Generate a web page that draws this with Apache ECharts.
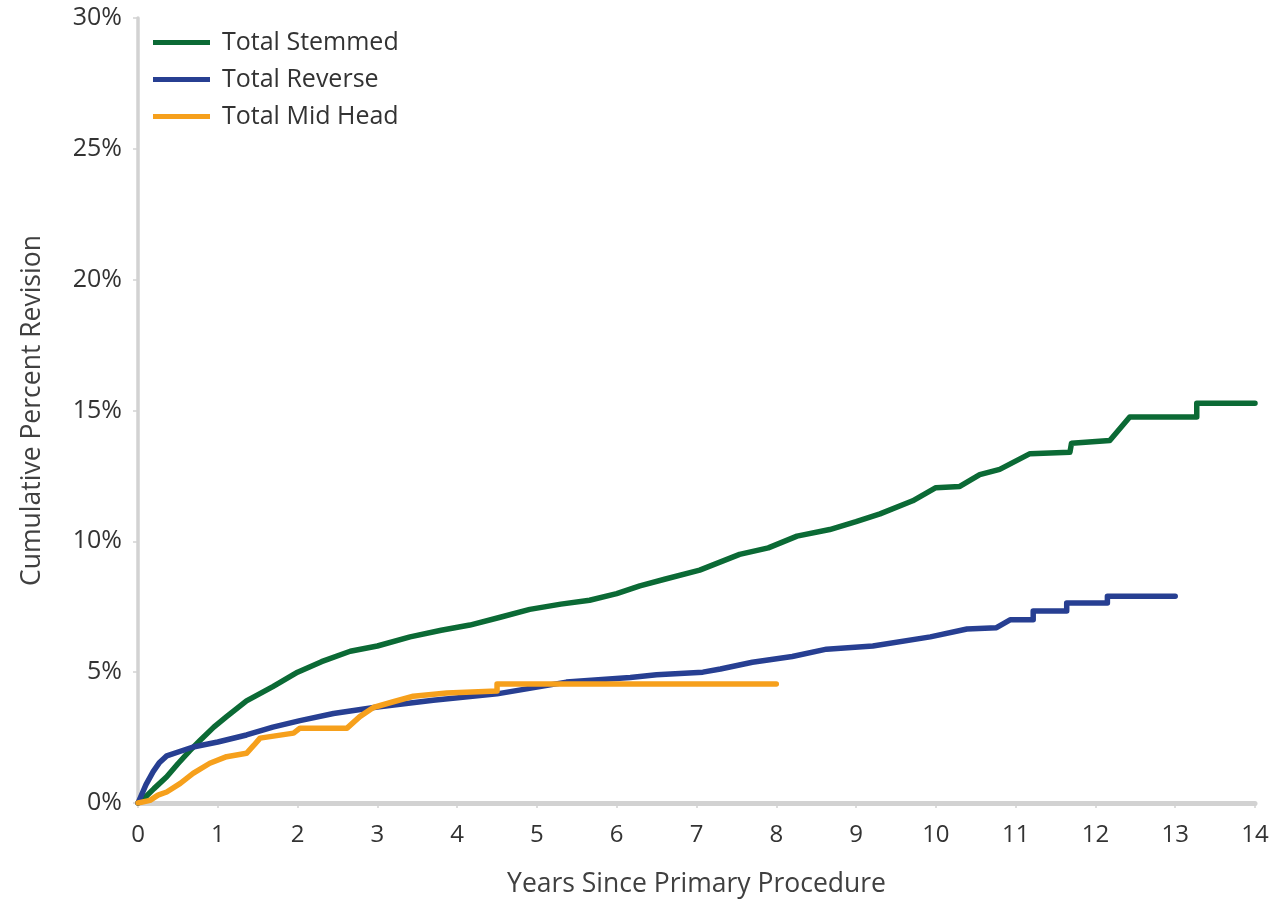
<!DOCTYPE html>
<html>
<head>
<meta charset="utf-8">
<script src="https://cdn.jsdelivr.net/npm/echarts@6/dist/echarts.min.js"></script>
<style>html,body{margin:0;padding:0;background:#fff}#c{width:1273px;height:903px}</style>
</head>
<body>
<div id="c"></div>
<script>
var seriesNames = ['Total Stemmed', 'Total Reverse', 'Total Mid Head'];
var yTicks = [0, 5, 10, 15, 20, 25, 30];
var xTicks = [0,1,2,3,4,5,6,7,8,9,10,11,12,13,14];

var stemmed = [[0,0],[0.1,0.25],[0.2,0.55],[0.36,1.0],[0.5,1.5],[0.65,2.0],[0.78,2.4],[0.95,2.9],[1.11,3.3],[1.36,3.9],[1.69,4.45],[2.0,5.0],[2.3,5.4],[2.66,5.8],[3.0,6.0],[3.41,6.35],[3.8,6.6],[4.16,6.8],[4.54,7.1],[4.91,7.4],[5.3,7.6],[5.66,7.75],[6.0,8.0],[6.29,8.3],[6.6,8.55],[7.04,8.9],[7.54,9.5],[7.9,9.75],[8.26,10.2],[8.67,10.45],[9.0,10.75],[9.3,11.05],[9.71,11.55],[10.0,12.05],[10.3,12.1],[10.55,12.55],[10.8,12.75],[11.18,13.35],[11.68,13.4],[11.7,13.75],[12.18,13.85],[12.43,14.75],[13.27,14.75],[13.27,15.28],[14,15.28]];

var reverse = [[0,0],[0.1,0.7],[0.19,1.2],[0.27,1.55],[0.36,1.8],[0.69,2.14],[1.0,2.33],[1.36,2.6],[1.69,2.9],[2.03,3.15],[2.45,3.42],[3.0,3.67],[3.7,3.93],[4.5,4.17],[5.37,4.62],[6.17,4.8],[6.5,4.9],[7.08,5.0],[7.3,5.12],[7.7,5.38],[8.2,5.6],[8.63,5.88],[9.21,6.0],[9.93,6.35],[10.39,6.65],[10.76,6.7],[10.93,7.0],[11.22,7.0],[11.22,7.34],[11.64,7.34],[11.64,7.64],[12.15,7.64],[12.15,7.9],[13.0,7.9]];

var midHead = [[0,0],[0.15,0.1],[0.25,0.3],[0.36,0.42],[0.53,0.75],[0.69,1.13],[0.9,1.52],[1.11,1.77],[1.36,1.9],[1.45,2.2],[1.53,2.48],[1.95,2.67],[2.03,2.86],[2.62,2.86],[2.78,3.3],[2.95,3.65],[3.2,3.87],[3.45,4.08],[3.87,4.2],[4.5,4.28],[4.5,4.55],[8.0,4.55]];

var colors = ['#0b6a35', '#273f92', '#f6a01c'];
var FONT = '"Open Sans", "Noto Sans", sans-serif';

var chart = echarts.init(document.getElementById('c'));
function mk(name, data, color) {
  return {
    name: name, type: 'line', data: data, showSymbol: false, symbol: 'none',
    lineStyle: { color: color, width: 5.5, cap: 'round', join: 'round' },
    itemStyle: { color: color }, z: 3, animation: false
  };
}
chart.setOption({
  animation: false,
  color: colors,
  grid: { left: 138, right: 18, top: 18, bottom: 100, containLabel: false },
  legend: {
    orient: 'vertical', left: 148, top: 25,
    itemWidth: 57, itemHeight: 5, itemGap: 12,
    icon: 'rect',
    textStyle: { fontFamily: FONT, fontSize: 25, color: '#333', padding: [0, 0, 0, 7] },
    data: seriesNames
  },
  xAxis: {
    type: 'value', min: 0, max: 14, interval: 1,
    name: 'Years Since Primary Procedure', nameLocation: 'middle', nameGap: 68,
    nameTextStyle: { fontFamily: FONT, fontSize: 26.5, color: '#404040' },
    axisLine: { show: true, lineStyle: { color: '#d2d2d2', width: 5 } },
    axisTick: { show: true, length: 5, lineStyle: { color: '#d2d2d2', width: 1.5 } },
    axisLabel: { fontFamily: FONT, fontSize: 24, color: '#333', margin: 20,
      formatter: function (v) { return xTicks.indexOf(v) >= 0 ? String(v) : ''; } },
    splitLine: { show: false }
  },
  yAxis: {
    type: 'value', min: 0, max: 30, interval: 5,
    name: 'Cumulative Percent Revision', nameLocation: 'middle', nameGap: 92,
    nameTextStyle: { fontFamily: FONT, fontSize: 26.5, color: '#404040' },
    axisLine: { show: true, lineStyle: { color: '#d2d2d2', width: 3.5 } },
    axisTick: { show: true, length: 5, lineStyle: { color: '#d2d2d2', width: 1.5 } },
    axisLabel: { fontFamily: FONT, fontSize: 25, color: '#333', margin: 16,
      formatter: function (v) { return yTicks.indexOf(v) >= 0 ? v + '%' : ''; } },
    splitLine: { show: false }
  },
  series: [
    mk(seriesNames[0], stemmed, colors[0]),
    mk(seriesNames[1], reverse, colors[1]),
    mk(seriesNames[2], midHead, colors[2])
  ]
});
</script>
</body>
</html>
